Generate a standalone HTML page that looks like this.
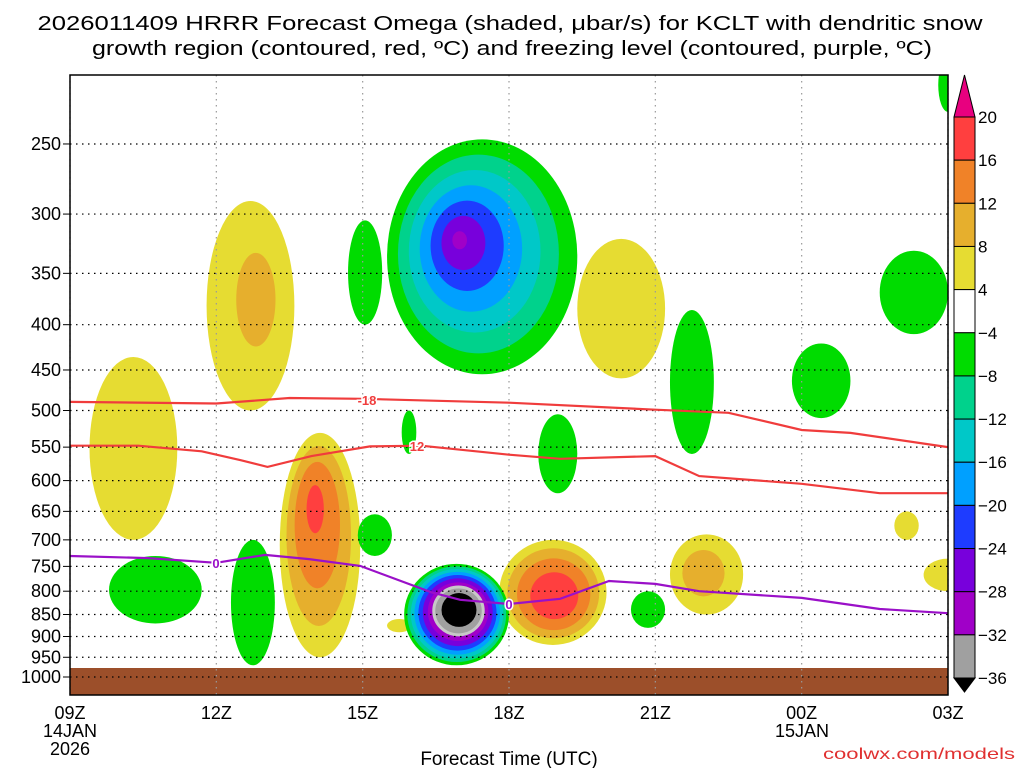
<!DOCTYPE html>
<html><head><meta charset="utf-8"><style>
html,body{margin:0;padding:0;background:#fff;}
svg{display:block;font-family:"Liberation Sans","DejaVu Sans",sans-serif;}
</style></head><body>
<svg id="chart" width="1024" height="768" viewBox="0 0 1024 768" xmlns="http://www.w3.org/2000/svg">
<defs><clipPath id="plotclip"><rect x="70" y="75" width="878" height="620"/></clipPath></defs>
<text x="510" y="30" font-size="20" text-anchor="middle" textLength="945" lengthAdjust="spacingAndGlyphs">2026011409 HRRR Forecast Omega (shaded, μbar/s) for KCLT with dendritic snow</text>
<text x="512" y="55" font-size="20" text-anchor="middle" textLength="840" lengthAdjust="spacingAndGlyphs">growth region (contoured, red, ºC) and freezing level (contoured, purple, ºC)</text>
<g id="fills" clip-path="url(#plotclip)"></g>
<rect x="70" y="668" width="878" height="27" fill="#9c4f2a"/>
<g id="grid"></g>
<g id="lines" clip-path="url(#plotclip)"></g>
<rect x="70" y="75" width="878" height="620" fill="none" stroke="#000" stroke-width="1.5"/>
<g id="axes"></g>
<g id="cbar"></g>
<text x="509" y="765" font-size="19" text-anchor="middle">Forecast Time (UTC)</text>
<text x="1015" y="759" font-size="16" text-anchor="end" fill="#e03030" textLength="192" lengthAdjust="spacingAndGlyphs">coolwx.com/models</text>
</svg>
<script>
const xTickLabels = ["09Z","12Z","15Z","18Z","21Z","00Z","03Z"];
const xTickHours = [0,3,6,9,12,15,18];
const yTicks = [250,300,350,400,450,500,550,600,650,700,750,800,850,900,950,1000];
// blobs: core hour, core hPa, outer left/right hour, outer top/bottom hPa, peak omega
const blobT  = [7.95, 8.0, 1.2, 3.9, 5.0, 9.95, 11.2, 12.9, 17.15, 18.0, 6.75, 6.05, 12.8, 15.3, 17.3, 17.95, 1.8, 3.7, 6.25, 10.0, 11.85, 6.95];
const blobP  = [320, 835, 520, 370, 630, 815, 380, 760, 675, 765, 875, 350, 470, 465, 370, 215, 800, 790, 690, 560, 840, 530];
const blobT0 = [6.5, 6.85, 0.4, 2.8, 4.3, 8.8, 10.4, 12.3, 16.9, 17.5, 6.5, 5.7, 12.3, 14.8, 16.6, 17.8, 0.8, 3.3, 5.9, 9.6, 11.5, 6.8];
const blobT1 = [10.4, 9.0, 2.2, 4.6, 5.95, 11.0, 12.2, 13.8, 17.4, 18.5, 7.0, 6.4, 13.2, 16.0, 18.0, 18.2, 2.7, 4.2, 6.6, 10.4, 12.2, 7.1];
const blobP0 = [247, 745, 435, 290, 530, 700, 320, 690, 650, 735, 860, 305, 385, 420, 330, 200, 730, 700, 655, 505, 800, 500];
const blobP1 = [455, 970, 700, 500, 950, 920, 460, 850, 700, 800, 890, 400, 560, 510, 410, 230, 870, 970, 730, 620, 880, 560];
const blobPeak=[-30,-40, 6, 9, 17, 19, 6, 10, 5, 6, 5, -6, -6, -6, -6, -6, -6, -6, -6, -6, -6, -6];
const blobExp =[1, 0.5, 0.5, 0.5, 0.6, 0.5, 0.5, 0.5, 0.5, 0.5, 0.5, 0.5, 0.5, 0.5, 0.5, 0.5, 0.5, 0.5, 0.5, 0.5, 0.5, 0.5];
const posLevels=[4,8,12,16,20], posColors=["#e6dc32","#e6af2d","#f08228","#ff3f3f","#e8007f"];
const negLevels=[-4,-8,-12,-16,-20,-24,-28,-32,-36], negColors=["#00dc00","#00d28c","#00c8c8","#00a0ff","#1e3cff","#7800dc","#a000c8","#a0a0a0","#000000"];
const l18T=[0,3,4.5,6,9,12,13.5,15,16,18], l18P=[489,491,484,485,490,499,503,526,530,550];
const l12T=[0,1.4,2.7,3.5,4.05,4.95,6.15,7.2,9,10.05,12,12.9,15,16.6,18], l12P=[548,548,556,569,579,563,549,548,561,567,563,593,605,620,620];
const l0T=[0,1.6,3,4,4.9,5.95,7.4,8.0,9,10.05,11.05,12,12.9,15,16.6,18], l0P=[730,734,743,728,736,749,802,818,827,816,779,785,800,814,838,847];
const NS="http://www.w3.org/2000/svg";
const X=h=>70+h*(878/18);
const Y=p=>677+384.5*Math.log(p/1000);
function mk(tag,attrs,parent){const e=document.createElementNS(NS,tag);for(const k in attrs)e.setAttribute(k,attrs[k]);parent.appendChild(e);return e;}
const fills=document.getElementById('fills');
function drawBlob(i){
  const pk=blobPeak[i],m=Math.abs(pk);
  const levels=pk>0?posLevels:negLevels, cols=pk>0?posColors:negColors;
  const cx=X(blobT[i]),cy=Y(blobP[i]);
  levels.forEach((L,k)=>{
    const a=Math.abs(L); if(a>=m) return;
    const d=Math.pow((m-a)/(m-4),blobExp[i]);
    const l=cx+d*(X(blobT0[i])-cx), r=cx+d*(X(blobT1[i])-cx);
    const t=cy+d*(Y(blobP0[i])-cy), b=cy+d*(Y(blobP1[i])-cy);
    const e=mk('ellipse',{cx:(l+r)/2,cy:(t+b)/2,rx:(r-l)/2,ry:(b-t)/2,fill:cols[k]},fills);
    if(L===-32){e.setAttribute('stroke','#c8c8c8');e.setAttribute('stroke-width','3');}
    
    
  });
}
blobT.forEach((_,i)=>{if(blobPeak[i]>0)drawBlob(i);});
blobT.forEach((_,i)=>{if(blobPeak[i]<0)drawBlob(i);});
const grid=document.getElementById('grid'), axes=document.getElementById('axes');
yTicks.forEach(p=>{
  const y=Y(p);
  const g=mk('line',{x1:70,x2:948,y1:y,y2:y,stroke:'#000','stroke-width':1.2,'stroke-dasharray':'1.5 4.5'},grid);
  
  
  const tk=mk('line',{x1:63,x2:70,y1:y,y2:y,stroke:'#000'},axes);
  
  
  const t=mk('text',{x:61,y:y+6,'font-size':18,'text-anchor':'end'},axes);t.textContent=p;
  
  
});
xTickHours.forEach((h,i)=>{
  const x=X(h);
  const g=mk('line',{x1:x,x2:x,y1:75,y2:695,stroke:'#999','stroke-width':1.2,'stroke-dasharray':'1.5 4.5'},grid);
  
  
  const t=mk('text',{x:x,y:719,'font-size':18,'text-anchor':'middle'},axes);t.textContent=xTickLabels[i];
  
  
});
[[70,737,"14JAN"],[70,755,"2026"],[802,737,"15JAN"]].forEach(a=>{
  const t=mk('text',{x:a[0],y:a[1],'font-size':18,'text-anchor':'middle'},axes);t.textContent=a[2];
  
  
});
const lines=document.getElementById('lines');
function drawLine(T,P,col,name,labels){
  const d=T.map((t,i)=>(i?'L':'M')+X(t).toFixed(1)+','+Y(P[i]).toFixed(1)).join('');
  const pth=mk('path',{d:d,fill:'none',stroke:col,'stroke-width':2.2},lines);
  
  
  labels.forEach(lb=>{
    const t=mk('text',{x:lb[0],y:lb[1]+5,'font-size':13,'font-weight':'bold','text-anchor':'middle',fill:col,stroke:'#fff','stroke-width':3,'paint-order':'stroke'},lines);
    t.textContent=lb[2];
    
    
  });
}
drawLine(l18T,l18P,'#f03c3c','dgz-minus18-line',[[367,400,'-18']]);
drawLine(l12T,l12P,'#f03c3c','dgz-minus12-line',[[417,446,'12']]);
drawLine(l0T,l0P,'#9a10c8','freezing-level-line',[[216,563,'0'],[509,604,'0']]);
// colorbar
const cb=document.getElementById('cbar');
const cbLabels=["20","16","12","8","4","−4","−8","−12","−16","−20","−24","−28","−32","−36"];
const cbColors=["#ff3f3f","#f08228","#e6af2d","#e6dc32","#ffffff","#00dc00","#00d28c","#00c8c8","#00a0ff","#1e3cff","#7800dc","#a000c8","#a0a0a0"];
const cbTop=117,cbStep=(678-117)/13,bx=954,bw=21;
mk('path',{d:`M${bx},${cbTop}L${bx+bw/2},75L${bx+bw},${cbTop}Z`,fill:'#e8007f',stroke:'#000'},cb);
cbColors.forEach((c,i)=>{
  const r=mk('rect',{x:bx,y:cbTop+i*cbStep,width:bw,height:cbStep,fill:c,stroke:'#000'},cb);
  
  
});
mk('path',{d:`M${bx},678L${bx+bw/2},692L${bx+bw},678Z`,fill:'#000',stroke:'#000'},cb);
cbLabels.forEach((s,i)=>{
  const t=mk('text',{x:978,y:cbTop+i*cbStep+6,'font-size':17},cb);t.textContent=s;
  
  
});
</script>
</body></html>
